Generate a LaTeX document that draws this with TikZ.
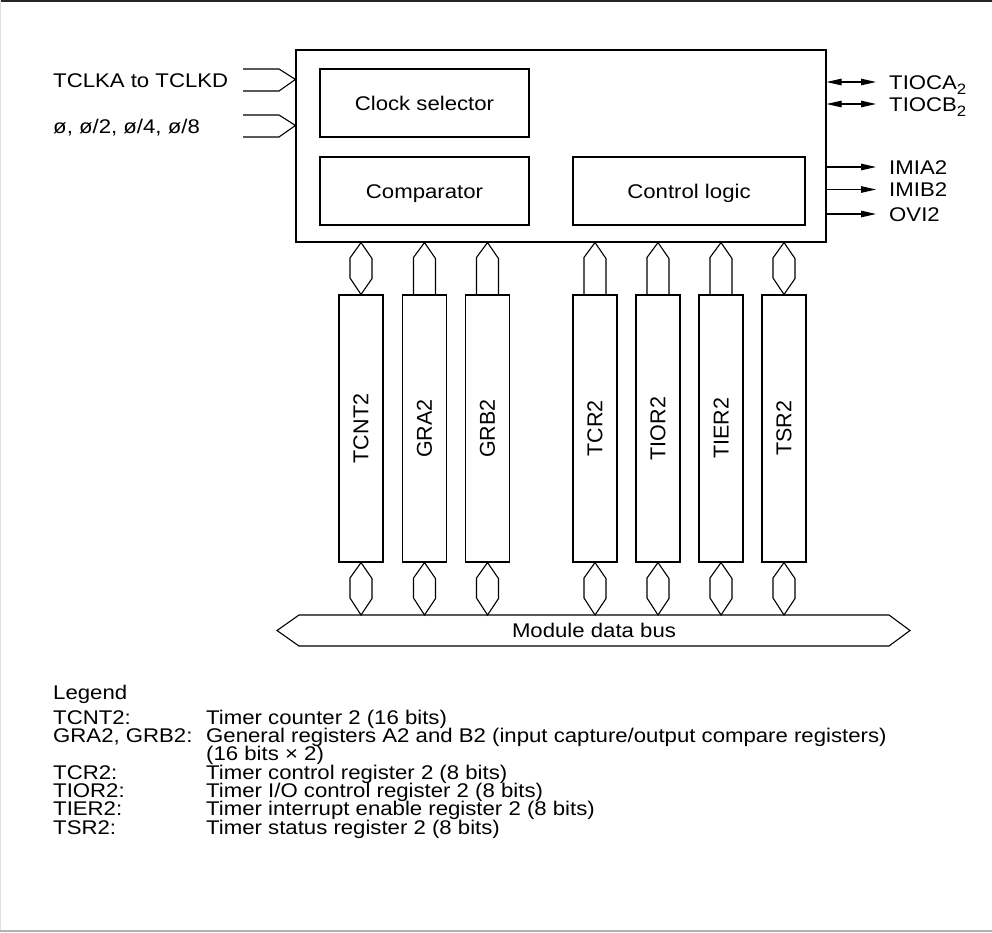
\documentclass[tikz,border=0pt]{standalone}
\usepackage{fontspec}
\setmainfont[FakeStretch=1.12]{Liberation Sans}
\newfontfamily\rotfont{Liberation Sans}
\usetikzlibrary{arrows.meta,calc}
\tikzset{
  txt/.style={font=\fontsize{19.8}{18.3}\selectfont, inner sep=0pt},
  box/.style={draw, line width=1.1pt, inner sep=0pt},
  reg/.style={draw, line width=1.1pt, inner sep=0pt, minimum width=44pt, minimum height=267pt,
    font=\rotfont\fontsize{21.5}{21.5}\selectfont},
  wire/.style={line width=1.1pt, line join=miter},
  sig/.style={line width=1.1pt, -{Triangle[length=15pt,width=6.5pt]}},
  bisig/.style={line width=1.1pt, {Triangle[length=15pt,width=6.5pt]}-{Triangle[length=15pt,width=6.5pt]}},
}
\newcommand{\subtwo}{\raisebox{-0.5ex}{\fontsize{15}{15}\selectfont 2}}
\begin{document}
\begin{tikzpicture}[x=1pt,y=-1pt]
\useasboundingbox (0,0) rectangle (992,932);
% frame
\draw[line width=1.6pt, black!85] (0,0.8) -- (992,0.8);
\draw[line width=1pt, black!12] (0.5,0) -- (0.5,932);
\draw[line width=1.6pt, black!30] (0,931) -- (992,931);

% main block
\node[box, minimum width=530pt, minimum height=192pt] (main) at (561,146) {};
\node[box, minimum width=209pt, minimum height=68pt] (clk) at (424.5,103) {};
\node[txt, anchor=base] (clkt) at (424.5,110) {Clock selector};
\node[box, minimum width=209pt, minimum height=68pt] (cmp) at (424.5,191) {};
\node[txt, anchor=base] (cmpt) at (424.5,198) {Comparator};
\node[box, minimum width=232pt, minimum height=68pt] (ctl) at (689,191) {};
\node[txt, anchor=base] (ctlt) at (689,198) {Control logic};

% inputs
\node[txt, anchor=base west] (in1) at (53,87.2) {TCLKA to TCLKD};
\node[txt, anchor=base west] (in2) at (53,133.2) {ø, ø/2, ø/4, ø/8};
\draw[wire] (243,69) -- (279,69) -- ($(main.north west)+(0,30)$) -- (279,91) -- (243,91);
\draw[wire] (243,115) -- (279,115) -- ($(main.north west)+(0,76)$) -- (279,137) -- (243,137);

% outputs
\coordinate (oA) at (876,82);
\coordinate (oB) at (876,104);
\coordinate (o1) at (876,167);
\coordinate (o2) at (876,189.5);
\coordinate (o3) at (876,214);
\draw[bisig] (main.east |- oA) -- (oA);
\draw[bisig] (main.east |- oB) -- (oB);
\draw[sig] (main.east |- o1) -- (o1);
\draw[sig] (main.east |- o2) -- (o2);
\draw[sig] (main.east |- o3) -- (o3);
\node[txt, anchor=base west] (tA) at (889,89) {TIOCA\subtwo};
\node[txt, anchor=base west] (tB) at (889,111) {TIOCB\subtwo};
\node[txt, anchor=base west] (t1) at (889,174) {IMIA2};
\node[txt, anchor=base west] (t2) at (889,196.5) {IMIB2};
\node[txt, anchor=base west] (t3) at (889,221) {OVI2};

% registers
\node[reg] (r1) at (361,428.5) {\rotatebox{90}{TCNT2}};
\node[reg] (r2) at (424.5,428.5) {\rotatebox{90}{GRA2}};
\node[reg] (r3) at (487.5,428.5) {\rotatebox{90}{GRB2}};
\node[reg] (r4) at (595,428.5) {\rotatebox{90}{TCR2}};
\node[reg] (r5) at (658,428.5) {\rotatebox{90}{TIOR2}};
\node[reg] (r6) at (721,428.5) {\rotatebox{90}{TIER2}};
\node[reg] (r7) at (784,428.5) {\rotatebox{90}{TSR2}};

% bus
\node[txt, anchor=base] (bus) at (594,637) {Module data bus};
\draw[wire] (277,630.5) -- (299,615) -- (889,615) -- (910,630.5) -- (889,646) -- (299,646) -- cycle;

% top connectors: bidirectional
\foreach \r in {r1,r7}{
  \draw[wire] (\r.north |- main.south) -- ++(11,16) -- ++(0,20) -- (\r.north) -- ++(-11,-16.5) -- ++(0,-20) -- cycle;
}
% top connectors: unidirectional
\foreach \r in {r2,r3,r4,r5,r6}{
  \draw[wire] ($(\r.north)+(-11,0)$) -- ++(0,-37) -- (\r.north |- main.south) -- ++(11,16) -- ($(\r.north)+(11,0)$);
}
% bottom connectors
\foreach \r in {r1,r2,r3,r4,r5,r6,r7}{
  \draw[wire] (\r.south) -- ++(11,16) -- ++(0,20) -- (\r.south |- 0,615) -- ++(-11,-17) -- ++(0,-20) -- cycle;
}

% legend
\node[txt, anchor=base west] (lg) at (53,699) {Legend};
\node[txt, anchor=base west] (k1) at (53,724) {TCNT2:};
\node[txt, anchor=base west] (d1) at (206,724) {Timer counter 2 (16 bits)};
\node[txt, anchor=base west] (k2) at (53,742.3) {GRA2, GRB2:};
\node[txt, anchor=base west] (d2) at (206,742.3) {General registers A2 and B2 (input capture/output compare registers)};
\node[txt, anchor=base west] (d2b) at (206,760.6) {(16 bits × 2)};
\node[txt, anchor=base west] (k3) at (53,779) {TCR2:};
\node[txt, anchor=base west] (d3) at (206,779) {Timer control register 2 (8 bits)};
\node[txt, anchor=base west] (k4) at (53,797.3) {TIOR2:};
\node[txt, anchor=base west] (d4) at (206,797.3) {Timer I/O control register 2 (8 bits)};
\node[txt, anchor=base west] (k5) at (53,815.6) {TIER2:};
\node[txt, anchor=base west] (d5) at (206,815.6) {Timer interrupt enable register 2 (8 bits)};
\node[txt, anchor=base west] (k6) at (53,834) {TSR2:};
\node[txt, anchor=base west] (d6) at (206,834) {Timer status register 2 (8 bits)};
\end{tikzpicture}
\end{document}
